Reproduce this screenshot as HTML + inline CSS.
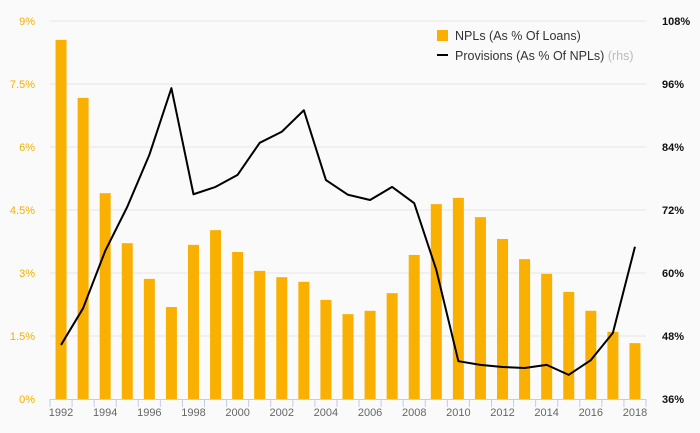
<!DOCTYPE html>
<html><head><meta charset="utf-8"><style>
body{margin:0;background:#fafafa;}
svg{display:block;font-family:"Liberation Sans",sans-serif;}
</style></head><body>
<svg id="chart" width="700" height="433" viewBox="0 0 700 433">
<rect width="700" height="433" fill="#fafafa"/>
<g id="grid"></g><g id="bars"></g><g id="line"></g><g id="axes"></g>
<g>
<rect x="437" y="30" width="11" height="11" fill="#fab000"/>
<text x="455" y="40" font-size="12.5" fill="#333">NPLs (As % Of Loans)</text>
<rect x="437" y="54" width="11" height="2" fill="#000"/>
<text x="455" y="60" font-size="12.5" fill="#333">Provisions (As % Of NPLs) <tspan fill="#bbb">(rhs)</tspan></text>
</g>
</svg>
<script>
const years=[1992,1993,1994,1995,1996,1997,1998,1999,2000,2001,2002,2003,2004,2005,2006,2007,2008,2009,2010,2011,2012,2013,2014,2015,2016,2017,2018];
const npl=[8.55,7.17,4.9,3.71,2.86,2.19,3.67,4.02,3.5,3.05,2.9,2.79,2.36,2.02,2.1,2.52,3.43,4.64,4.79,4.33,3.81,3.33,2.98,2.55,2.1,1.6,1.33];
const provisions=[46.3,53.3,64.2,72.6,82.5,95.2,75.0,76.4,78.7,84.8,86.9,91.0,77.7,74.9,73.9,76.4,73.3,60.6,43.2,42.5,42.1,41.9,42.5,40.6,43.4,48.6,65.0];
const leftTicks=[0,1.5,3,4.5,6,7.5,9];
const leftLabels=["0%","1.5%","3%","4.5%","6%","7.5%","9%"];
const rightTicks=[36,48,60,72,84,96,108];
const rightLabels=["36%","48%","60%","72%","84%","96%","108%"];
const NS="http://www.w3.org/2000/svg";
const X0=50,X1=646,Y0=399,Y1=21;
const band=(X1-X0)/years.length;
const xc=i=>X0+band*(i+0.5);
const yL=v=>Y0-(v-0)/(9-0)*(Y0-Y1);
const yR=v=>Y0-(v-36)/(108-36)*(Y0-Y1);
function mk(t,a,p){const e=document.createElementNS(NS,t);for(const k in a)e.setAttribute(k,a[k]);p.appendChild(e);return e;}
const grid=document.getElementById('grid'),bars=document.getElementById('bars'),line=document.getElementById('line'),axes=document.getElementById('axes');
leftTicks.forEach((v,i)=>{
 if(v>0){const g=mk('line',{x1:X0,x2:X1,y1:yL(v),y2:yL(v),stroke:'#e6e6e6','stroke-width':1},grid);
 
 }
 const t=mk('text',{x:35,y:yL(v)+4,'text-anchor':'end','font-size':11,fill:'#f5b000'},axes);t.textContent=leftLabels[i];
 
 
});
rightTicks.forEach((v,i)=>{
 const t=mk('text',{x:662,y:yR(v)+4,'font-size':11,fill:'#111','font-weight':'bold'},axes);t.textContent=rightLabels[i];
 
 
});
npl.forEach((v,i)=>{
 const r=mk('rect',{x:xc(i)-5.5,y:yL(v),width:11,height:Y0-yL(v),fill:'#fab000'},bars);
 
 
});
const pl=mk('polyline',{points:provisions.map((v,i)=>xc(i)+','+yR(v)).join(' '),fill:'none',stroke:'#000','stroke-width':2,'stroke-linejoin':'round'},line);


const base=mk('line',{x1:X0,x2:X1,y1:Y0+0.5,y2:Y0+0.5,stroke:'#c5cde0','stroke-width':1},axes);


for(let i=0;i<=years.length;i++){
 const tk=mk('line',{x1:X0+band*i,x2:X0+band*i,y1:Y0,y2:Y0+8,stroke:'#c5cde0','stroke-width':1},axes);
 
 
}
years.forEach((y,i)=>{
 if(i%2)return;
 const t=mk('text',{x:xc(i),y:416,'text-anchor':'middle','font-size':11,fill:'#666'},axes);t.textContent=y;
 
 
});
</script>
</body></html>
